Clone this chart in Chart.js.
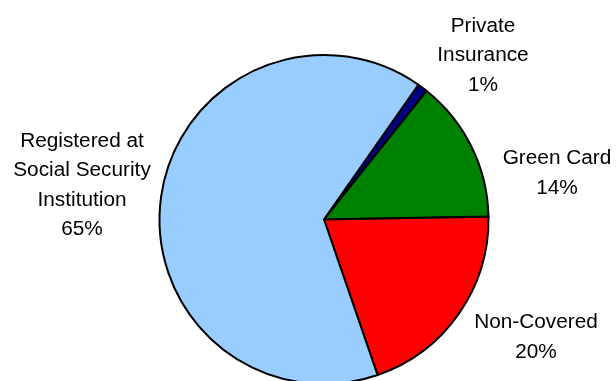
<!DOCTYPE html>
<html>
<head>
<meta charset="utf-8">
<script src="https://cdn.jsdelivr.net/npm/chart.js"></script>
<style>
  html, body { margin: 0; padding: 0; background: #fff; overflow: hidden; }
  #wrap { width: 616px; height: 381px; overflow: hidden; }
</style>
</head>
<body>
<div id="wrap"><canvas id="pie" width="616" height="440"></canvas></div>
<script>
// Health coverage shares, clockwise from the top-right
const categories = ['Private\nInsurance', 'Green Card', 'Non-Covered', 'Registered at\nSocial Security\nInstitution'];
const shares = [1, 14, 20, 65];
const colors = ['#000080', '#008000', '#FF0000', '#99CCFF'];

// where each label block is centred, relative to the pie centre
const labelOffsets = [[159, -164], [233, -46], [212, 118], [-242, -34]];

const sliceLabels = {
    id: 'sliceLabels',
    afterDatasetsDraw(chart) {
        const ctx = chart.ctx;
        const arc = chart.getDatasetMeta(0).data[0];
        const lineHeight = 29.5;
        ctx.save();
        ctx.fillStyle = '#000';
        ctx.font = '20px "Liberation Sans", Arial, sans-serif';
        ctx.textAlign = 'center';
        ctx.textBaseline = 'middle';
        categories.forEach((name, i) => {
            const lines = name.split('\n').concat([Math.round(shares[i]) + '%']);
            const cx = arc.x + labelOffsets[i][0];
            const top = arc.y + labelOffsets[i][1] - (lines.length - 1) * lineHeight / 2;
            lines.forEach((line, j) => {
                ctx.save();
                ctx.translate(cx, top + j * lineHeight);
                ctx.scale(1.04, 1);
                ctx.fillText(line, 0, 0);
                ctx.restore();
            });
        });
        ctx.restore();
    }
};

new Chart(document.getElementById('pie'), {
    type: 'pie',
    data: {
        labels: categories,
        datasets: [{
            data: shares,
            backgroundColor: colors,
            borderColor: '#000',
            borderWidth: 2,
            borderJoinStyle: 'miter'
        }]
    },
    options: {
        responsive: false,
        animation: false,
        rotation: 35,
        layout: { padding: { top: 54, bottom: 55, left: 158, right: 126 } },
        plugins: {
            legend: { display: false },
            tooltip: { enabled: false }
        }
    },
    plugins: [sliceLabels]
});
</script>
</body>
</html>
